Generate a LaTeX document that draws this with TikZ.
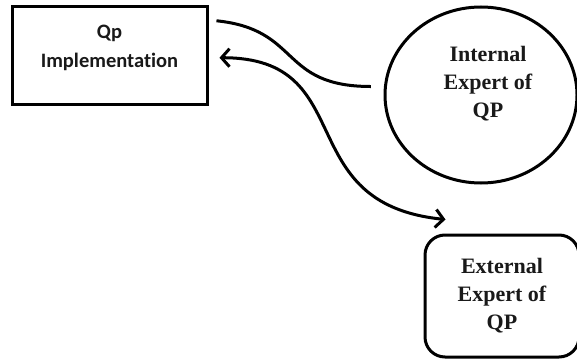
\documentclass[tikz,border=0pt]{standalone}
\usepackage{fontspec}
\setmainfont{Liberation Serif}
\newfontfamily\calibrifont[Ligatures=NoCommon]{Carlito}
\usetikzlibrary{positioning, arrows.meta, shapes.geometric}
\tikzstyle{link} = [draw, line width=3pt]
\tikzstyle{twoway} = [link, {Straight Barb[length=8pt,width=18pt]}-{Straight Barb[length=8pt,width=18pt]}]
\tikzstyle{plainbox} = [rectangle, draw, line width=3pt,
    minimum width=195pt, minimum height=98pt]
\tikzstyle{expert} = [font=\fontsize{22}{28}\selectfont\bfseries, align=center, text=black!90]

\begin{document}
\begin{tikzpicture}[x=1pt, y=1pt]
      \useasboundingbox (0,0) rectangle (577,-358);
      % Place nodes
      \node [plainbox, label={[font=\calibrifont\fontsize{20.5}{29}\selectfont\bfseries, align=center, text=black!90, yshift=8.5pt]center:Qp\\Implementation}] (qp) at (109.5,-56) {};
      \node [ellipse, draw, line width=3pt, minimum width=192pt, minimum height=176pt, inner sep=0pt,
             label={[expert, xshift=7pt, yshift=11.5pt]center:Internal\\Expert of\\QP}] (internal) at (481,-95) {};
      \node [expert, rectangle, rounded corners=20pt, draw, line width=3pt,
             minimum width=154pt, minimum height=122pt] (external) at (502,-296) {External\\Expert of\\QP};
      % Draw edges
      \path [link, shorten <=8pt, shorten >=13pt] (qp.20) .. controls +(93,-9.5) and +(-105,0) .. (internal.175);
      \path [twoway, shorten <=11pt] (qp.-1) .. controls +(153,0) and +(-157,16) .. ([shift={(22pt,14pt)}]external.north west);
\end{tikzpicture}
\end{document}
